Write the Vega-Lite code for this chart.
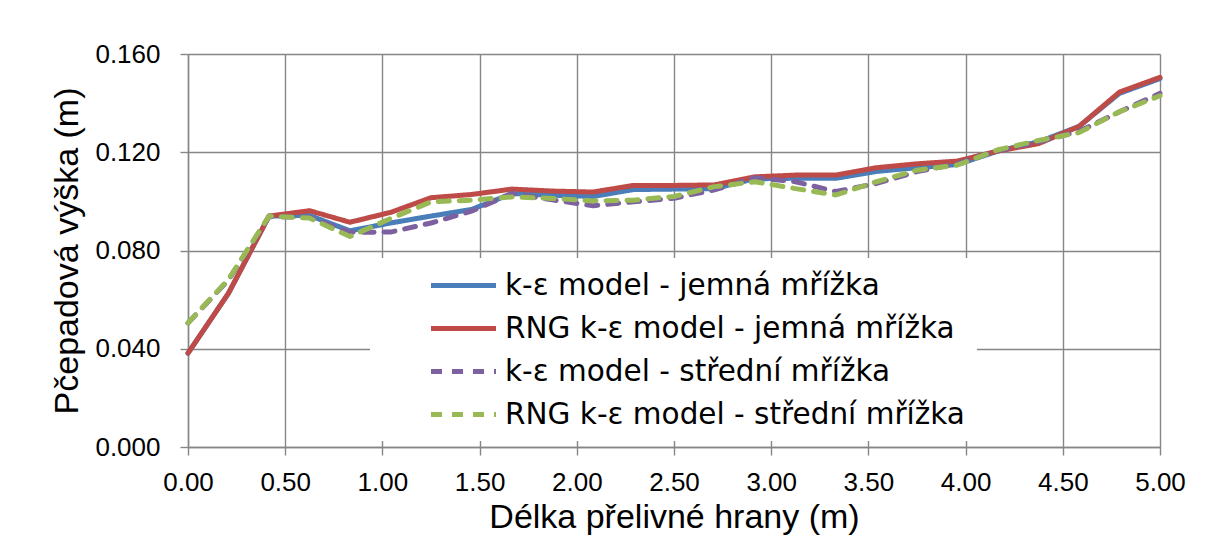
{
  "$schema": "https://vega.github.io/schema/vega-lite/v6.json",
  "width": 972,
  "height": 393,
  "autosize": {"type": "none"},
  "padding": {"left": 188, "top": 54, "right": 45, "bottom": 90},
  "background": "white",
  "config": {"view": {"stroke": null}},
  "datasets": {
    "d": [
      {"x": 0, "v": 0.0382, "s": "k-ε model - jemná mřížka"},
      {"x": 0.2083, "v": 0.0626, "s": "k-ε model - jemná mřížka"},
      {"x": 0.4167, "v": 0.0940, "s": "k-ε model - jemná mřížka"},
      {"x": 0.625, "v": 0.0943, "s": "k-ε model - jemná mřížka"},
      {"x": 0.8333, "v": 0.0880, "s": "k-ε model - jemná mřížka"},
      {"x": 1.0417, "v": 0.0912, "s": "k-ε model - jemná mřížka"},
      {"x": 1.25, "v": 0.0940, "s": "k-ε model - jemná mřížka"},
      {"x": 1.4583, "v": 0.0967, "s": "k-ε model - jemná mřížka"},
      {"x": 1.6667, "v": 0.1032, "s": "k-ε model - jemná mřížka"},
      {"x": 1.875, "v": 0.1025, "s": "k-ε model - jemná mřížka"},
      {"x": 2.0833, "v": 0.1020, "s": "k-ε model - jemná mřížka"},
      {"x": 2.2917, "v": 0.1048, "s": "k-ε model - jemná mřížka"},
      {"x": 2.5, "v": 0.1050, "s": "k-ε model - jemná mřížka"},
      {"x": 2.7083, "v": 0.1052, "s": "k-ε model - jemná mřížka"},
      {"x": 2.9167, "v": 0.1092, "s": "k-ε model - jemná mřížka"},
      {"x": 3.125, "v": 0.1094, "s": "k-ε model - jemná mřížka"},
      {"x": 3.3333, "v": 0.1094, "s": "k-ε model - jemná mřížka"},
      {"x": 3.5417, "v": 0.1122, "s": "k-ε model - jemná mřížka"},
      {"x": 3.75, "v": 0.1137, "s": "k-ε model - jemná mřížka"},
      {"x": 3.9583, "v": 0.1150, "s": "k-ε model - jemná mřížka"},
      {"x": 4.1667, "v": 0.1205, "s": "k-ε model - jemná mřížka"},
      {"x": 4.375, "v": 0.1242, "s": "k-ε model - jemná mřížka"},
      {"x": 4.5833, "v": 0.1305, "s": "k-ε model - jemná mřížka"},
      {"x": 4.7917, "v": 0.1440, "s": "k-ε model - jemná mřížka"},
      {"x": 5, "v": 0.1500, "s": "k-ε model - jemná mřížka"},

      {"x": 0, "v": 0.0382, "s": "RNG k-ε model - jemná mřížka"},
      {"x": 0.2083, "v": 0.0626, "s": "RNG k-ε model - jemná mřížka"},
      {"x": 0.4167, "v": 0.0940, "s": "RNG k-ε model - jemná mřížka"},
      {"x": 0.625, "v": 0.0962, "s": "RNG k-ε model - jemná mřížka"},
      {"x": 0.8333, "v": 0.0915, "s": "RNG k-ε model - jemná mřížka"},
      {"x": 1.0417, "v": 0.0955, "s": "RNG k-ε model - jemná mřížka"},
      {"x": 1.25, "v": 0.1015, "s": "RNG k-ε model - jemná mřížka"},
      {"x": 1.4583, "v": 0.1028, "s": "RNG k-ε model - jemná mřížka"},
      {"x": 1.6667, "v": 0.1050, "s": "RNG k-ε model - jemná mřížka"},
      {"x": 1.875, "v": 0.1042, "s": "RNG k-ε model - jemná mřížka"},
      {"x": 2.0833, "v": 0.1038, "s": "RNG k-ε model - jemná mřížka"},
      {"x": 2.2917, "v": 0.1065, "s": "RNG k-ε model - jemná mřížka"},
      {"x": 2.5, "v": 0.1065, "s": "RNG k-ε model - jemná mřížka"},
      {"x": 2.7083, "v": 0.1067, "s": "RNG k-ε model - jemná mřížka"},
      {"x": 2.9167, "v": 0.1100, "s": "RNG k-ε model - jemná mřížka"},
      {"x": 3.125, "v": 0.1107, "s": "RNG k-ε model - jemná mřížka"},
      {"x": 3.3333, "v": 0.1107, "s": "RNG k-ε model - jemná mřížka"},
      {"x": 3.5417, "v": 0.1137, "s": "RNG k-ε model - jemná mřížka"},
      {"x": 3.75, "v": 0.1153, "s": "RNG k-ε model - jemná mřížka"},
      {"x": 3.9583, "v": 0.1164, "s": "RNG k-ε model - jemná mřížka"},
      {"x": 4.1667, "v": 0.1205, "s": "RNG k-ε model - jemná mřížka"},
      {"x": 4.375, "v": 0.1235, "s": "RNG k-ε model - jemná mřížka"},
      {"x": 4.5833, "v": 0.1305, "s": "RNG k-ε model - jemná mřížka"},
      {"x": 4.7917, "v": 0.1445, "s": "RNG k-ε model - jemná mřížka"},
      {"x": 5, "v": 0.1505, "s": "RNG k-ε model - jemná mřížka"},

      {"x": 0, "v": 0.0505, "s": "k-ε model - střední mřížka"},
      {"x": 0.2083, "v": 0.0680, "s": "k-ε model - střední mřížka"},
      {"x": 0.4167, "v": 0.0938, "s": "k-ε model - střední mřížka"},
      {"x": 0.625, "v": 0.0935, "s": "k-ε model - střední mřížka"},
      {"x": 0.8333, "v": 0.0874, "s": "k-ε model - střední mřížka"},
      {"x": 1.0417, "v": 0.0875, "s": "k-ε model - střední mřížka"},
      {"x": 1.25, "v": 0.0912, "s": "k-ε model - střední mřížka"},
      {"x": 1.4583, "v": 0.0960, "s": "k-ε model - střední mřížka"},
      {"x": 1.6667, "v": 0.1032, "s": "k-ε model - střední mřížka"},
      {"x": 1.875, "v": 0.1006, "s": "k-ε model - střední mřížka"},
      {"x": 2.0833, "v": 0.0982, "s": "k-ε model - střední mřížka"},
      {"x": 2.2917, "v": 0.0998, "s": "k-ε model - střední mřížka"},
      {"x": 2.5, "v": 0.1013, "s": "k-ε model - střední mřížka"},
      {"x": 2.7083, "v": 0.1047, "s": "k-ε model - střední mřížka"},
      {"x": 2.9167, "v": 0.1096, "s": "k-ε model - střední mřížka"},
      {"x": 3.125, "v": 0.1080, "s": "k-ε model - střední mřížka"},
      {"x": 3.3333, "v": 0.1040, "s": "k-ε model - střední mřížka"},
      {"x": 3.5417, "v": 0.1073, "s": "k-ε model - střední mřížka"},
      {"x": 3.75, "v": 0.1121, "s": "k-ε model - střední mřížka"},
      {"x": 3.9583, "v": 0.1153, "s": "k-ε model - střední mřížka"},
      {"x": 4.1667, "v": 0.1207, "s": "k-ε model - střední mřížka"},
      {"x": 4.375, "v": 0.1242, "s": "k-ε model - střední mřížka"},
      {"x": 4.5833, "v": 0.1285, "s": "k-ε model - střední mřížka"},
      {"x": 4.7917, "v": 0.1365, "s": "k-ε model - střední mřížka"},
      {"x": 5, "v": 0.1440, "s": "k-ε model - střední mřížka"},

      {"x": 0, "v": 0.0505, "s": "RNG k-ε model - střední mřížka"},
      {"x": 0.2083, "v": 0.0683, "s": "RNG k-ε model - střední mřížka"},
      {"x": 0.4167, "v": 0.0940, "s": "RNG k-ε model - střední mřížka"},
      {"x": 0.625, "v": 0.0932, "s": "RNG k-ε model - střední mřížka"},
      {"x": 0.8333, "v": 0.0857, "s": "RNG k-ε model - střední mřížka"},
      {"x": 1.0417, "v": 0.0930, "s": "RNG k-ε model - střední mřížka"},
      {"x": 1.25, "v": 0.0998, "s": "RNG k-ε model - střední mřížka"},
      {"x": 1.4583, "v": 0.1005, "s": "RNG k-ε model - střední mřížka"},
      {"x": 1.6667, "v": 0.1018, "s": "RNG k-ε model - střední mřížka"},
      {"x": 1.875, "v": 0.1012, "s": "RNG k-ε model - střední mřížka"},
      {"x": 2.0833, "v": 0.1002, "s": "RNG k-ε model - střední mřížka"},
      {"x": 2.2917, "v": 0.1005, "s": "RNG k-ε model - střední mřížka"},
      {"x": 2.5, "v": 0.1020, "s": "RNG k-ε model - střední mřížka"},
      {"x": 2.7083, "v": 0.1060, "s": "RNG k-ε model - střední mřížka"},
      {"x": 2.9167, "v": 0.1080, "s": "RNG k-ε model - střední mřížka"},
      {"x": 3.125, "v": 0.1052, "s": "RNG k-ε model - střední mřížka"},
      {"x": 3.3333, "v": 0.1026, "s": "RNG k-ε model - střední mřížka"},
      {"x": 3.5417, "v": 0.1080, "s": "RNG k-ε model - střední mřížka"},
      {"x": 3.75, "v": 0.1127, "s": "RNG k-ε model - střední mřížka"},
      {"x": 3.9583, "v": 0.1148, "s": "RNG k-ε model - střední mřížka"},
      {"x": 4.1667, "v": 0.1210, "s": "RNG k-ε model - střední mřížka"},
      {"x": 4.375, "v": 0.1248, "s": "RNG k-ε model - střední mřížka"},
      {"x": 4.5833, "v": 0.1280, "s": "RNG k-ε model - střední mřížka"},
      {"x": 4.7917, "v": 0.1365, "s": "RNG k-ε model - střední mřížka"},
      {"x": 5, "v": 0.1430, "s": "RNG k-ε model - střední mřížka"}
    ]
  },
  "data": {"name": "d"},
  "mark": {"type": "line", "strokeWidth": 5, "strokeCap": "round", "strokeJoin": "round"},
  "encoding": {
    "x": {
      "field": "x", "type": "quantitative",
      "scale": {"domain": [0, 5], "nice": false, "zero": false},
      "axis": {
        "title": "Délka přelivné hrany (m)",
        "values": [0, 0.5, 1, 1.5, 2, 2.5, 3, 3.5, 4, 4.5, 5],
        "format": ".2f",
        "grid": true, "gridColor": "#868686", "gridWidth": 1.4,
        "domainColor": "#868686", "domainWidth": 1.4,
        "tickColor": "#868686", "tickWidth": 1.4, "tickSize": 8,
        "labelFont": "Liberation Sans", "labelFontSize": 26, "labelColor": "black",
        "labelPadding": 14, "labelFlush": false, "labelOverlap": false,
        "titleFont": "Liberation Sans", "titleFontSize": 34, "titleFontWeight": "normal",
        "titleColor": "black", "titlePadding": 5
      }
    },
    "y": {
      "field": "v", "type": "quantitative",
      "scale": {"domain": [0, 0.16], "nice": false},
      "axis": {
        "title": "Pčepadová výška (m)",
        "values": [0, 0.04, 0.08, 0.12, 0.16],
        "format": ".3f",
        "grid": true, "gridColor": "#868686", "gridWidth": 1.4,
        "domainColor": "#868686", "domainWidth": 1.4,
        "tickColor": "#868686", "tickWidth": 1.4, "tickSize": 8,
        "labelFont": "Liberation Sans", "labelFontSize": 26, "labelColor": "black",
        "labelPadding": 20, "labelFlush": false, "labelOverlap": false,
        "titleFont": "Liberation Sans", "titleFontSize": 34, "titleFontWeight": "normal",
        "titleColor": "black", "titlePadding": 10
      }
    },
    "color": {
      "field": "s", "type": "nominal",
      "scale": {
        "domain": ["k-ε model - jemná mřížka", "RNG k-ε model - jemná mřížka", "k-ε model - střední mřížka", "RNG k-ε model - střední mřížka"],
        "range": ["#4A7EBB", "#BE4B48", "#7D60A0", "#98B954"]
      },
      "legend": {
        "title": null,
        "orient": "none",
        "legendX": 182,
        "legendY": 204,
        "fillColor": "white",
        "padding": 12,
        "symbolType": "M-2.5,0H2.5",
        "symbolSize": 676,
        "symbolStrokeWidth": 5,
        "symbolOffset": 66,
        "labelOffset": 26,
        "rowPadding": 13,
        "labelFont": "DejaVu Sans",
        "labelFontSize": 29.5,
        "labelColor": "black",
        "labelLimit": 700
      }
    },
    "strokeDash": {
      "field": "s", "type": "nominal",
      "scale": {
        "domain": ["k-ε model - jemná mřížka", "RNG k-ε model - jemná mřížka", "k-ε model - střední mřížka", "RNG k-ε model - střední mřížka"],
        "range": [[1, 0], [1, 0], [11, 10], [11, 10]]
      },
      "legend": null
    },
    "order": {"field": "x", "type": "quantitative"}
  }
}
